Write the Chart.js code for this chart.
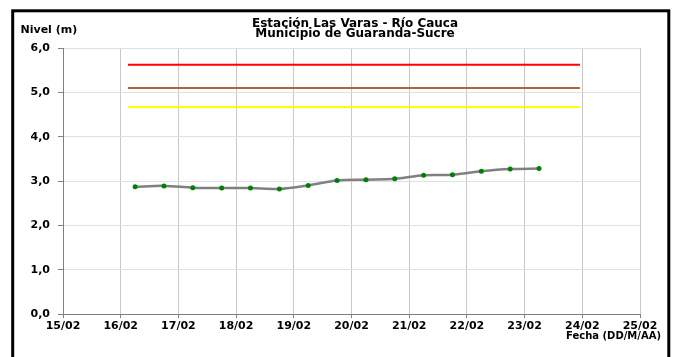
<!DOCTYPE html>
<html lang="es">
<head>
<meta charset="utf-8">
<title>Estación Las Varas - Río Cauca</title>
<script src="https://cdn.jsdelivr.net/npm/chart.js@4/dist/chart.umd.min.js"></script>
<style>
  html, body { margin: 0; padding: 0; background: #fff; }
  #grafico { display: block; }
</style>
</head>
<body>
<canvas id="grafico" width="674" height="357"></canvas>
<script>
// niveles leídos cada 12 horas
const fechas = [
  '16/02 06:00', '16/02 18:00', '17/02 06:00', '17/02 18:00', '18/02 06:00',
  '18/02 18:00', '19/02 06:00', '19/02 18:00', '20/02 06:00', '20/02 18:00',
  '21/02 06:00', '21/02 18:00', '22/02 06:00', '22/02 18:00', '23/02 06:00',
];
const niveles = [2.87, 2.89, 2.85, 2.84, 2.84, 2.82, 2.90, 3.01, 3.03, 3.05, 3.13, 3.14, 3.22, 3.27, 3.28];

// umbrales (rojo, naranja/marrón, amarillo)
const umbralFechas = ['16/02 03:00', '23/02 23:00'];
const umbralRojo = 5.62;
const umbralNaranja = 5.10;
const umbralAmarillo = 4.67;

// eje x: días de febrero
const diaMin = 15;
const diaMax = 25;

const FUENTE = "'DejaVu Sans', 'Liberation Sans', sans-serif";

// 'DD/MM HH:MM' -> día con fracción
function aDia(f) {
  const [fecha, hora] = f.split(' ');
  const [h, m] = hora.split(':').map(Number);
  return Number(fecha.split('/')[0]) + h / 24 + m / 1440;
}

function lineaUmbral(valor, color) {
  return {
    label: 'umbral',
    data: umbralFechas.map(f => ({ x: aDia(f), y: valor })),
    borderColor: color,
    borderWidth: 2,
    pointRadius: 0,
    tension: 0,
  };
}

const marco = {
  id: 'marco',
  beforeDraw(chart) {
    const { ctx, width, height } = chart;
    ctx.save();
    ctx.fillStyle = '#fff';
    ctx.fillRect(0, 0, width, height);
    ctx.restore();
  },
  afterDraw(chart) {
    const { ctx } = chart;
    ctx.save();
    ctx.strokeStyle = '#000';
    ctx.lineWidth = 3;
    ctx.strokeRect(12.7, 10.8, 656.1, 360);

    ctx.fillStyle = '#000';
    ctx.textBaseline = 'alphabetic';
    ctx.font = `bold 12px ${FUENTE}`;
    ctx.textAlign = 'center';
    ctx.fillText('Estación Las Varas - Río Cauca', 355, 26.7);
    ctx.fillText('Municipio de Guaranda-Sucre', 355, 36.9);

    ctx.font = `bold 11px ${FUENTE}`;
    ctx.textAlign = 'left';
    ctx.fillText('Nivel (m)', 20.5, 33.3);

    ctx.font = `bold 10px ${FUENTE}`;
    ctx.textAlign = 'right';
    ctx.fillText('Fecha (DD/M/AA)', 661, 339.4);
    ctx.restore();
  },
};

new Chart(document.getElementById('grafico'), {
  type: 'line',
  data: {
    datasets: [
      lineaUmbral(umbralRojo, '#ff0000'),
      lineaUmbral(umbralNaranja, '#a8683c'),
      lineaUmbral(umbralAmarillo, '#ffff00'),
      {
        label: 'Nivel',
        data: fechas.map((f, i) => ({ x: aDia(f), y: niveles[i] })),
        borderColor: '#808080',
        borderWidth: 2.5,
        tension: 0.3,
        pointRadius: 2.5,
        pointBackgroundColor: '#008000',
        pointBorderColor: '#008000',
        pointBorderWidth: 0,
      },
    ],
  },
  options: {
    responsive: false,
    animation: false,
    devicePixelRatio: 1,
    layout: { padding: { top: 48, right: 34, left: 0, bottom: 0 } },
    plugins: {
      legend: { display: false },
      title: { display: false },
      tooltip: { enabled: false },
    },
    scales: {
      x: {
        type: 'linear',
        min: diaMin,
        max: diaMax,
        afterFit: s => { s.height = 43; },
        grid: { color: '#c8c8c8', tickColor: '#808080', tickLength: 4 },
        border: { color: '#808080' },
        ticks: {
          stepSize: 1,
          autoSkip: false,
          maxRotation: 0,
          padding: 2,
          color: '#000',
          font: { family: FUENTE, size: 11, weight: 'bold' },
          callback: v => `${v}/02`,
        },
      },
      y: {
        min: 0,
        max: 6,
        afterFit: s => { s.width = 63; },
        grid: { color: '#e0e0e0', tickColor: '#808080', tickLength: 5 },
        border: { color: '#808080' },
        ticks: {
          stepSize: 1,
          padding: 8,
          color: '#000',
          font: { family: FUENTE, size: 11, weight: 'bold' },
          callback: v => v.toFixed(1).replace('.', ','),
        },
      },
    },
  },
  plugins: [marco],
});
</script>
</body>
</html>
